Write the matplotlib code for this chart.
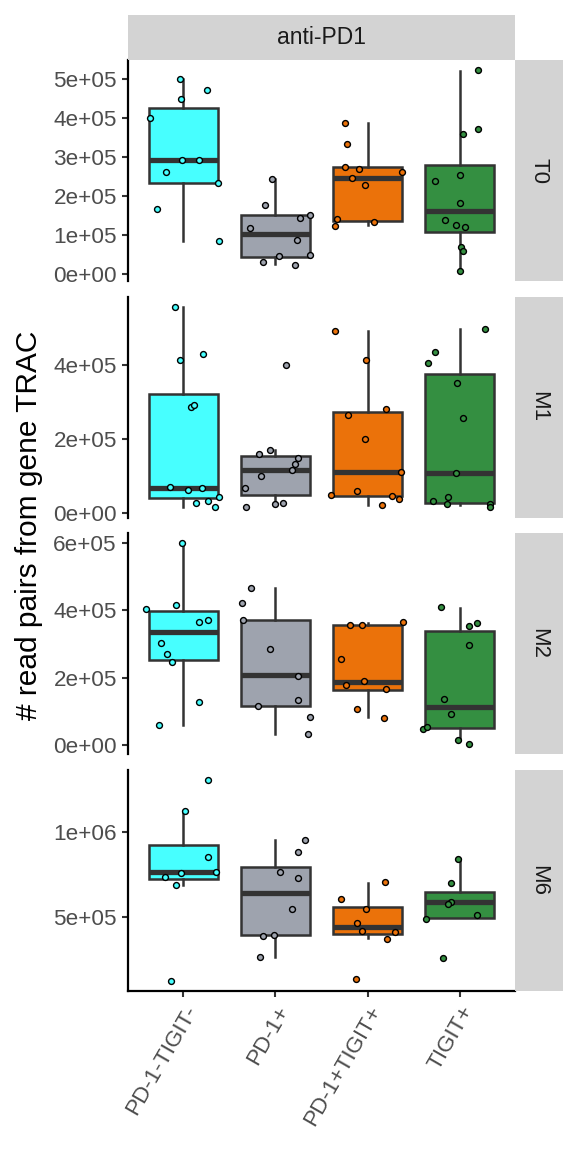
import matplotlib
matplotlib.use("Agg")
import matplotlib.pyplot as plt
from matplotlib.patches import Rectangle
import numpy as np

plt.rcParams['font.family'] = ['Liberation Sans', 'DejaVu Sans']

categories = ["PD-1-TIGIT-", "PD-1+", "PD-1+TIGIT+", "TIGIT+"]
colors = ["#47FFFF", "#9EA3AE", "#EB720A", "#348F41"]
timepoints = ["T0", "M1", "M2", "M6"]
facet_title = "anti-PD1"
y_label = "# read pairs from gene TRAC"

# box stats per timepoint per category: (whislo, q1, med, q3, whishi), in units of 1e5
box_T0 = [(0.84, 2.34, 2.93, 4.25, 5.0), (0.25, 0.44, 1.02, 1.50, 2.44),
          (1.24, 1.36, 2.46, 2.73, 3.87), (0.07, 1.06, 1.60, 2.79, 5.21)]
box_M1 = [(0.15, 0.41, 0.68, 3.23, 5.58), (0.31, 0.48, 1.15, 1.53, 1.69),
          (0.22, 0.45, 1.10, 2.73, 4.93), (0.20, 0.26, 1.07, 3.77, 4.97)]
box_M2 = [(0.58, 2.52, 3.36, 3.97, 6.0), (0.33, 1.15, 2.07, 3.71, 4.65),
          (0.82, 1.64, 1.88, 3.56, 3.61), (0.16, 0.49, 1.14, 3.39, 4.08)]
box_M6 = [(6.88, 7.19, 7.62, 9.22, 11.21), (2.64, 3.89, 6.37, 7.91, 9.49),
          (3.71, 3.96, 4.41, 5.59, 6.99), (4.92, 4.92, 5.86, 6.45, 8.38)]

# points: values (1e5) and horizontal jitter offsets (fraction of category spacing)
T0_vals = [
    [4.01, 5.0, 4.48, 4.72, 2.92, 2.92, 2.61, 1.65, 2.33, 0.84],
    [2.44, 1.76, 1.18, 1.51, 1.42, 0.86, 0.49, 0.45, 0.30, 0.23],
    [3.88, 3.32, 2.73, 2.70, 2.46, 2.28, 2.60, 1.40, 1.33, 1.22],
    [5.23, 3.71, 3.58, 2.38, 2.53, 1.81, 1.39, 1.24, 1.19, 0.68, 0.57, 0.07],
]
T0_jit = [
    [-0.36, -0.04, -0.02, 0.26, -0.01, 0.17, -0.19, -0.29, 0.38, 0.39],
    [-0.04, -0.11, -0.28, 0.38, 0.27, 0.23, 0.37, 0.04, -0.14, 0.21],
    [-0.24, -0.22, -0.25, -0.09, -0.17, -0.03, 0.37, -0.33, 0.07, -0.35],
    [0.20, 0.20, 0.04, -0.27, 0.0, 0.0, -0.16, -0.04, 0.06, 0.01, 0.04, 0.0],
]
M1_vals = [
    [5.59, 4.13, 4.29, 2.87, 2.93, 0.70, 0.60, 0.66, 0.43, 0.25, 0.32, 0.14],
    [4.0, 1.70, 1.58, 1.47, 1.32, 1.15, 1.0, 0.68, 0.14, 0.24, 0.26],
    [4.94, 4.14, 2.64, 2.80, 2.0, 1.10, 0.47, 0.59, 0.44, 0.38, 0.20],
    [4.99, 4.35, 4.05, 3.51, 2.56, 1.07, 0.43, 0.31, 0.23, 0.23, 0.15],
]
M1_jit = [
    [-0.09, -0.04, 0.21, 0.08, 0.12, -0.14, 0.05, 0.20, 0.39, 0.14, 0.27, 0.34],
    [0.12, -0.06, -0.18, 0.25, 0.21, 0.18, -0.16, -0.33, -0.32, 0.0, 0.08],
    [-0.35, -0.02, -0.21, 0.20, -0.03, 0.36, -0.40, -0.12, 0.26, 0.34, 0.16],
    [0.27, -0.27, -0.34, -0.03, 0.04, -0.04, -0.13, -0.29, -0.14, 0.33, 0.33],
]
M2_vals = [
    [6.0, 4.03, 4.16, 3.64, 3.70, 3.03, 2.69, 2.48, 1.29, 0.58],
    [4.66, 4.22, 3.70, 2.85, 2.06, 1.15, 1.35, 0.83, 0.32],
    [3.64, 3.55, 3.57, 2.56, 1.78, 1.89, 1.67, 1.07, 0.81],
    [4.10, 3.53, 3.63, 2.98, 1.37, 0.92, 0.48, 0.54, 0.16, 0.03],
]
M2_jit = [
    [-0.01, -0.40, -0.08, 0.17, 0.27, -0.24, -0.18, -0.12, 0.17, -0.26],
    [-0.26, -0.36, -0.35, -0.06, 0.25, -0.19, 0.24, 0.37, 0.35],
    [0.38, -0.19, -0.06, -0.29, -0.23, -0.04, 0.20, -0.12, 0.18],
    [-0.20, 0.10, 0.19, 0.10, -0.17, -0.09, -0.40, -0.35, -0.02, 0.10],
]
M6_vals = [
    [13.03, 11.21, 8.52, 7.34, 7.58, 7.64, 6.86, 1.21],
    [9.53, 8.79, 7.60, 7.29, 5.47, 3.83, 3.91, 2.62],
    [7.01, 6.02, 5.45, 4.63, 4.16, 4.10, 3.67, 1.31],
    [8.40, 6.95, 5.88, 5.74, 5.08, 4.84, 2.58],
]
M6_jit = [
    [0.27, 0.02, 0.27, -0.20, -0.02, 0.35, -0.08, -0.13],
    [0.32, 0.24, 0.05, 0.24, 0.18, -0.13, -0.02, -0.17],
    [0.19, -0.29, -0.02, -0.11, -0.06, 0.30, 0.21, -0.13],
    [-0.02, -0.09, -0.10, -0.13, 0.19, -0.37, -0.18],
]

yticks_T0 = [0, 1e5, 2e5, 3e5, 4e5, 5e5]
ylabels_T0 = ["0e+00", "1e+05", "2e+05", "3e+05", "4e+05", "5e+05"]
yticks_M1 = [0, 2e5, 4e5]
ylabels_M1 = ["0e+00", "2e+05", "4e+05"]
yticks_M2 = [0, 2e5, 4e5, 6e5]
ylabels_M2 = ["0e+00", "2e+05", "4e+05", "6e+05"]
yticks_M6 = [5e5, 1e6]
ylabels_M6 = ["5e+05", "1e+06"]

boxes = [box_T0, box_M1, box_M2, box_M6]
vals = [T0_vals, M1_vals, M2_vals, M6_vals]
jits = [T0_jit, M1_jit, M2_jit, M6_jit]
yticks = [yticks_T0, yticks_M1, yticks_M2, yticks_M6]
ylabels = [ylabels_T0, ylabels_M1, ylabels_M2, ylabels_M6]

W, H = 576, 1152
fig = plt.figure(figsize=(W / 100, H / 100), dpi=100)

left, right = 128, 515
strip_w = 48
panel_tops = [60, 296.5, 533, 770]
panel_h = 221
scale = 1e5
line_col = "#333333"
tick_fs = 16.2
strip_fs = 16

def fx(px):
    return px / W

def fy(py):
    return 1 - py / H

# top strip
fig.patches.append(Rectangle((fx(left), fy(60)), fx(right - left), (60 - 15) / H,
                             transform=fig.transFigure, facecolor="#D3D3D3",
                             edgecolor="none"))
fig.text(fx((left + right) / 2), fy(37.5), facet_title, ha="center", va="center",
         fontsize=16.5, color="#1A1A1A")

positions = np.arange(1, len(categories) + 1)

for i, tp in enumerate(timepoints):
    top = panel_tops[i]
    ax = fig.add_axes([fx(left), fy(top + panel_h), fx(right - left), panel_h / H])
    stats = []
    for b in boxes[i]:
        stats.append(dict(whislo=b[0] * scale, q1=b[1] * scale, med=b[2] * scale,
                          q3=b[3] * scale, whishi=b[4] * scale, fliers=[]))
    bp = ax.bxp(stats, positions=positions, widths=0.75, patch_artist=True,
                showfliers=False, showcaps=False,
                boxprops=dict(edgecolor=line_col, linewidth=1.8),
                whiskerprops=dict(color=line_col, linewidth=1.8),
                medianprops=dict(color=line_col, linewidth=3.8, solid_capstyle="butt"))
    for patch, c in zip(bp["boxes"], colors):
        patch.set_facecolor(c)
    for j in range(len(categories)):
        v = np.array(vals[i][j]) * scale
        x = positions[j] + np.array(jits[i][j])
        ax.scatter(x, v, s=18, facecolor=colors[j], edgecolor="black",
                   linewidths=1.0, zorder=4)
    allv = np.concatenate([np.array(a) for a in vals[i]] +
                          [np.array(b) for b in boxes[i]]) * scale
    lo, hi = allv.min(), allv.max()
    pad = 0.05 * (hi - lo)
    ax.set_ylim(lo - pad, hi + pad)
    ax.set_xlim(0.4, len(categories) + 0.6)
    ax.set_yticks(yticks[i])
    ax.set_yticklabels(ylabels[i])
    for s in ["top", "right"]:
        ax.spines[s].set_visible(False)
    ax.spines["left"].set_linewidth(1.6)
    ax.spines["bottom"].set_linewidth(1.6)
    ax.tick_params(axis="y", length=4, width=1.5, labelsize=tick_fs,
                   labelcolor="#4D4D4D", color="#333333", pad=4)
    if i < 3:
        ax.spines["bottom"].set_visible(False)
        ax.set_xticks([])
    else:
        ax.set_xticks(positions)
        ax.set_xticklabels(categories, rotation=60, ha="right",
                           rotation_mode="anchor")
        ax.tick_params(axis="x", length=4, width=1.5, labelsize=tick_fs,
                       labelcolor="#4D4D4D", color="#333333", pad=4)
    # right strip
    fig.patches.append(Rectangle((fx(right), fy(top + panel_h)), fx(strip_w),
                                 panel_h / H, transform=fig.transFigure,
                                 facecolor="#D3D3D3", edgecolor="none"))
    fig.text(fx(right + strip_w / 2), fy(top + panel_h / 2), tp, rotation=270,
             ha="center", va="center", fontsize=strip_fs, color="#1A1A1A")

fig.text(fx(29), fy((panel_tops[0] + panel_tops[-1] + panel_h) / 2), y_label,
         rotation=90, ha="center", va="center", fontsize=21.5, color="black")

fig.savefig("out.png", dpi=100)
